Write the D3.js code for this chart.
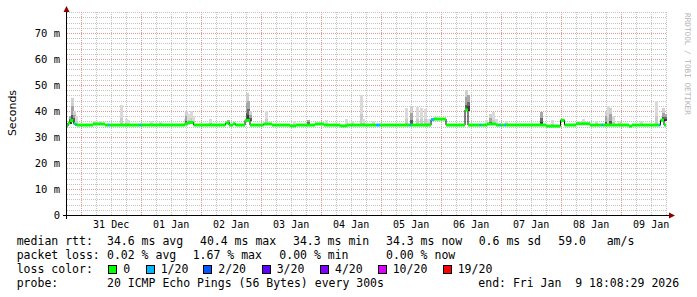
<!DOCTYPE html>
<html>
<head>
<meta charset="utf-8">
<script src="https://cdn.jsdelivr.net/npm/d3@7"></script>
<style>
  body { margin: 0; background: #fff; }
  text { font-family: "DejaVu Sans Mono", monospace; }
</style>
</head>
<body>
<script>
// ---- data ----
// median steps: [hours since start, median ms, loss index]
const medianSteps = [
  [0, 34.2, 0], [0.8, 35.4, 0], [1.6, 36.3, 0], [3.0, 35.2, 0], [3.6, 34.8, 1],
  [4.2, 34.6, 0], [10.8, 35.0, 0], [15.6, 34.6, 0], [16.8, 34.6, 1], [17.4, 34.6, 0],
  [29.4, 34.6, 1], [30.0, 34.6, 0], [47.6, 35.1, 0], [48.8, 35.6, 0], [51.0, 34.6, 0],
  [63.8, 35.4, 0], [65.2, 34.6, 0], [66.8, 35.1, 0], [67.8, 34.6, 0], [71.6, 36.4, 0],
  [73.6, 34.6, 0], [79.0, 35.0, 0], [82.4, 34.6, 0], [89.6, 34.3, 0], [92.0, 34.6, 0],
  [99.6, 35.0, 0], [103.2, 34.6, 0], [109.6, 34.3, 0], [112.4, 34.6, 0], [124.0, 34.6, 1],
  [125.6, 34.6, 0], [137.4, 34.6, 1], [138.0, 34.6, 0], [146.0, 36.7, 1], [147.2, 36.9, 0],
  [152.0, 34.6, 0], [159.6, 40.4, 0], [160.8, 34.6, 0], [165.4, 34.6, 1], [166.0, 34.6, 0],
  [168.4, 35.0, 0], [172.0, 34.6, 0], [173.4, 34.6, 1], [174.0, 34.6, 0], [175.4, 34.6, 1],
  [176.0, 34.6, 0], [192.0, 34.2, 0], [197.8, 36.4, 0], [199.4, 34.6, 0], [204.0, 35.1, 0],
  [209.6, 34.6, 0], [214.2, 34.6, 1], [214.8, 34.6, 0], [225.2, 34.2, 0], [226.4, 34.6, 0],
  [237.2, 34.6, 1], [237.8, 36.5, 0], [239.2, 34.6, 0]
]
// smoke columns: [hours since start, top ms, shade 0 light .. 2 dark]
const smoke = [
  [1.2, 38, 2], [2.0, 45, 1], [2.8, 40, 1], [3.4, 38, 0],
  [10.8, 36.2, 0], [13, 36.2, 0],
  [21.6, 42.2, 0], [23.6, 37, 0], [24.4, 36.5, 0],
  [33.6, 36, 0], [37, 35.8, 0],
  [47.2, 37, 0], [47.6, 40, 1], [48.4, 39, 0], [49.6, 40, 0], [50.4, 38, 0],
  [57.2, 37, 0], [64.4, 36.6, 2],
  [71.8, 47, 1], [72.4, 44, 2], [73.0, 40, 1],
  [79.6, 40, 0], [90.8, 36, 0], [96.4, 36.5, 2],
  [103.6, 36.5, 0], [111.6, 37, 0], [114, 36, 0],
  [117.6, 46, 0], [118.4, 37, 0], [122.4, 36.2, 0],
  [135.6, 41, 0], [137.6, 42, 1], [140, 41.4, 0], [141.6, 41, 0], [143.2, 40.6, 0], [144.4, 37, 0],
  [147.2, 37.6, 0], [148.4, 37.4, 0],
  [159.6, 48, 1], [160.2, 46, 2],
  [167.6, 36.5, 0], [169.2, 39, 1], [170.4, 39.8, 0], [171.6, 37, 0], [175.6, 36, 0],
  [189.6, 39.5, 2], [194, 36.5, 0], [198.4, 37, 1],
  [204.4, 36, 0], [206.4, 37, 0], [211.6, 36, 0],
  [215.6, 40, 1], [216.4, 42, 0], [217.2, 41.2, 1], [218.4, 38, 0],
  [220.8, 36, 0], [229.6, 36, 0], [235.6, 44, 0],
  [238.2, 41, 1], [239, 39, 2]
]
const lossLabels = ["0", "1/20", "2/20", "3/20", "4/20", "10/20", "19/20"]
const lossColors = ["#00ff00", "#00b8ff", "#0059ff", "#5e00ff", "#7e00ff", "#dd00ff", "#ff0000"]
const yTicks = [0, 10, 20, 30, 40, 50, 60, 70]

const endTime = Date.UTC(2026, 0, 9, 18, 8, 29)
const startTime = endTime - 240 * 3600e3
const hToDate = h => new Date(startTime + h * 3600e3)

let svg = d3.select("body").append("svg")
    .attr("width", 697)
    .attr("height", 297)

let x = d3.scaleUtc().domain([startTime, endTime]).range([66, 666])
let y = d3.scaleLinear().domain([0, 78]).range([215, 12.2])

// grid
let grid = svg.append("g").attr("shape-rendering", "crispEdges")
let minorY = d3.range(2, 79, 2).filter(v => v % 10 != 0)
let majorY = yTicks.filter(v => v > 0)
grid.selectAll(".hmin").data(minorY).enter().append("line")
    .attr("x1", 67).attr("x2", 667)
    .attr("y1", d => Math.round(y(d)) + 0.5).attr("y2", d => Math.round(y(d)) + 0.5)
    .attr("stroke", "#c4c4c4").attr("stroke-dasharray", "1,1")
let days = d3.utcDay.range(new Date(startTime), new Date(endTime))
let quarters = d3.utcHour.every(6).range(new Date(startTime), new Date(endTime))
    .filter(d => d.getUTCHours() != 0)
grid.selectAll(".vmin").data(quarters).enter().append("line")
    .attr("x1", d => Math.round(x(d)) + 0.5).attr("x2", d => Math.round(x(d)) + 0.5)
    .attr("y1", 12).attr("y2", 215)
    .attr("stroke", "#c4c4c4").attr("stroke-dasharray", "1,1")
grid.selectAll(".hmaj").data(majorY).enter().append("line")
    .attr("x1", 67).attr("x2", 667)
    .attr("y1", d => Math.round(y(d)) + 0.5).attr("y2", d => Math.round(y(d)) + 0.5)
    .attr("stroke", "#e69898").attr("stroke-dasharray", "1,1")
grid.selectAll(".vmaj").data(days).enter().append("line")
    .attr("x1", d => Math.round(x(d)) + 0.5).attr("x2", d => Math.round(x(d)) + 0.5)
    .attr("y1", 12).attr("y2", 215)
    .attr("stroke", "#e69898").attr("stroke-dasharray", "1,1")

// median lookup for smoke bottoms
function medianAt(h) {
    let v = medianSteps[0][1]
    medianSteps.forEach(s => { if (s[0] <= h) v = s[1] })
    return v
}

// smoke
const shadeLayers = [
    [[1, "#dadada"], [0.4, "#cacaca"]],
    [[1, "#d0d0d0"], [0.65, "#a4a4a4"], [0.3, "#5a5a5a"]],
    [[1, "#a8a8a8"], [0.6, "#6a6a6a"], [0.3, "#3a3a3a"]]
]
let smokeG = svg.append("g").attr("shape-rendering", "crispEdges")
smoke.forEach(s => {
    let lo = medianAt(s[0]) - 0.4
    shadeLayers[s[2]].forEach(layer => {
        let hi = lo + (s[1] - lo) * layer[0]
        smokeG.append("rect")
            .attr("x", x(hToDate(s[0])))
            .attr("width", x(hToDate(s[0] + 1.2)) - x(hToDate(s[0])))
            .attr("y", y(hi))
            .attr("height", y(lo) - y(hi))
            .attr("fill", layer[1])
    })
})

// median: thin black step line, then coloured segments on top
let stepPts = medianSteps.concat([[240, medianSteps[medianSteps.length - 1][1], 0]])
let line = d3.line()
    .x(d => x(hToDate(d[0])))
    .y(d => y(d[1]))
    .curve(d3.curveStepAfter)
svg.append("path")
    .attr("d", line(stepPts))
    .attr("fill", "none")
    .attr("stroke", "#000")
    .attr("stroke-width", 1)

let segs = medianSteps.map((s, i) => ({
    h0: s[0], h1: i + 1 < medianSteps.length ? medianSteps[i + 1][0] : 240, v: s[1], loss: s[2]
}))
svg.selectAll(".seg").data(segs).enter().append("line")
    .attr("x1", d => x(hToDate(d.h0)))
    .attr("x2", d => x(hToDate(d.h1)))
    .attr("y1", d => y(d.v)).attr("y2", d => y(d.v))
    .attr("stroke", d => lossColors[d.loss])
    .attr("stroke-width", 3)

// axes
let axisG = svg.append("g").attr("shape-rendering", "crispEdges")
axisG.append("line").attr("x1", 63).attr("x2", 670).attr("y1", 215.5).attr("y2", 215.5)
    .attr("stroke", "#000")
axisG.append("line").attr("x1", 66.5).attr("x2", 66.5).attr("y1", 219).attr("y2", 11)
    .attr("stroke", "#000")
svg.append("path").attr("d", "M66.5,6 L63.5,12 L69.5,12 Z").attr("fill", "#8b0000")
svg.append("path").attr("d", "M675,215.5 L669,212.5 L669,218.5 Z").attr("fill", "#8b0000")

let noons = days.map(d => d3.utcHour.offset(d, 12)).filter(d => +d < endTime)
let xAxis = svg.append("g")
    .attr("transform", "translate(0,215)")
    .call(d3.axisBottom(x).tickValues(noons).tickSize(0).tickPadding(6)
        .tickFormat(d3.utcFormat("%d %b")))
xAxis.select(".domain").remove()
xAxis.selectAll("text").attr("font-family", "DejaVu Sans Mono").attr("font-size", 10).attr("fill", "#000")

let yAxis = svg.append("g")
    .attr("transform", "translate(67,0)")
    .call(d3.axisLeft(y).tickValues(yTicks).tickSize(0).tickPadding(7)
        .tickFormat(d => d == 0 ? "0" : d + " m"))
yAxis.select(".domain").remove()
yAxis.selectAll("text").attr("font-family", "DejaVu Sans Mono").attr("font-size", 10.5).attr("fill", "#000")

svg.append("text")
    .attr("transform", "translate(16,113) rotate(-90)")
    .attr("text-anchor", "middle")
    .style("font-family", "DejaVu Sans")
    .attr("font-size", 11)
    .text("Seconds")

svg.append("text")
    .attr("transform", "translate(685,13) rotate(90)")
    .attr("font-size", 7.7)
    .attr("fill", "#b4b4b4")
    .text("RRDTOOL / TOBI OETIKER")

// legend
const legendRows = [
    [245, [[16.7, "median rtt:"], [107, "34.6 ms avg"], [200, "40.4 ms max"], [293, "34.3 ms min"],
           [386, "34.3 ms now"], [478.7, "0.6 ms sd"], [558.3, "59.0"], [606.7, "am/s"]]],
    [259, [[16.7, "packet loss:"], [107, "0.02 % avg"], [192.7, "1.67 % max"], [279.3, "0.00 % min"],
           [386, "0.00 % now"]]],
    [273, [[16.7, "loss color:"]]],
    [287, [[16.7, "probe:"], [107, "20 ICMP Echo Pings (56 Bytes) every 300s"],
           [478.3, "end: Fri Jan  9 18:08:29 2026"]]]
]
legendRows.forEach(row => {
    row[1].forEach(p => {
        svg.append("text")
            .attr("x", p[0]).attr("y", row[0])
            .attr("font-size", 11.5)
            .attr("xml:space", "preserve")
            .style("white-space", "pre")
            .text(p[1])
    })
})
const boxX = [108.3, 145.7, 203.3, 261.7, 320, 377.7, 442.7]
lossLabels.forEach((lab, i) => {
    svg.append("rect")
        .attr("x", Math.round(boxX[i]) + 0.5).attr("y", 265.5)
        .attr("width", 8).attr("height", 8)
        .attr("fill", lossColors[i]).attr("stroke", "#000")
    svg.append("text")
        .attr("x", boxX[i] + 15).attr("y", 273)
        .attr("font-size", 11.5)
        .text(lab)
})
</script>
</body>
</html>
